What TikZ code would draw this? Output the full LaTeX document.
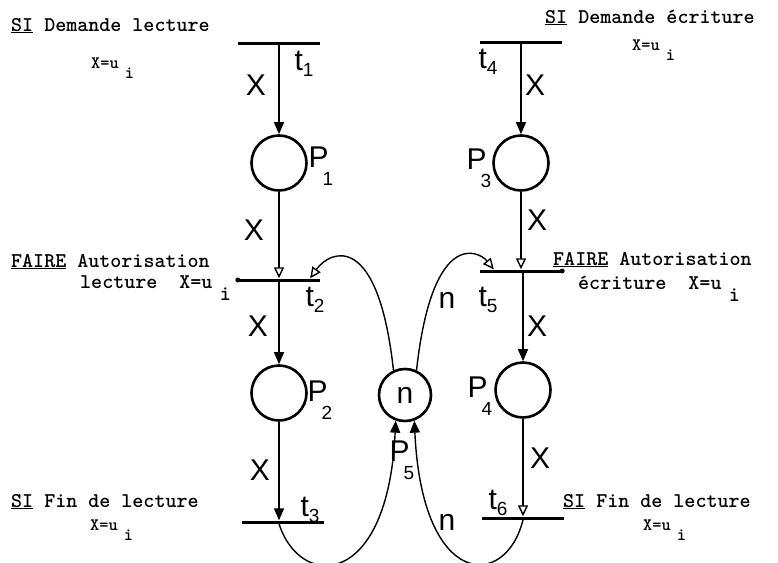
\documentclass[tikz,border=0pt]{standalone}
\usepackage{fontspec}
\newfontfamily\handfont{Liberation Sans}
\usetikzlibrary{arrows.meta}
\newcommand{\lowsub}[1]{\raisebox{-0.4ex}{\fontsize{19}{19}\selectfont #1}}
\newcommand{\undersub}[1]{\kern-0.2em\raisebox{-0.6em}{\fontsize{19}{19}\selectfont #1}}
\newcommand{\uidx}{u\hspace{0.35em}\raisebox{-0.6em}{i}}

\begin{document}
\begin{tikzpicture}[x=1pt,y=-1pt,
  place/.style={circle,draw,line width=2.6pt,minimum size=55pt,inner sep=0pt},
  bar/.style={rectangle,fill=black,minimum width=82pt,minimum height=3pt,inner sep=0pt},
  arc/.style={line width=1.4pt,-{Triangle[length=12pt,width=10pt]}},
  inarc/.style={line width=1.4pt,-{Triangle[open,length=11pt,width=10pt]}},
  lbl/.style={font=\handfont\fontsize{30}{30}\selectfont,inner sep=0pt},
  txt/.style={font=\ttfamily\bfseries\fontsize{21}{22}\selectfont,anchor=base west,inner sep=0pt},
  small/.style={font=\ttfamily\bfseries\fontsize{17.5}{18}\selectfont,anchor=base west,inner sep=0pt}
]
\useasboundingbox (0,0) rectangle (778,562);

% lecture
\node[bar] (t1) at (279,43) {};
\node[place] (p1) at (279,163) {};
\node[bar] (t2) at (279,280) {};
\node[place] (p2) at (279,393) {};
\node[bar] (t3) at (283,522) {};
% ecriture
\node[bar] (t4) at (521,42) {};
\node[place] (p3) at (521,163) {};
\node[bar] (t5) at (521,271) {};
\node[place] (p4) at (523,390) {};
\node[bar] (t6) at (523,518) {};
% ressource
\node[place,minimum size=52pt] (p5) at (405,395) {\handfont\fontsize{30}{30}\selectfont n};

\fill (t2.west) circle (2.5pt);
\fill (t5.east) circle (2.5pt);

\draw[arc] (t1) -- (p1);
\draw[inarc] (p1) -- (t2);
\draw[arc] (t2) -- (p2);
\draw[arc] (p2.south) -- (t3.north -| p2.south);
\draw[arc] (t4) -- (p3);
\draw[inarc] (p3) -- (t5);
\draw[arc] (t5.south -| p4.north) -- (p4);
\draw[inarc] (p4) -- (t6);

\draw[inarc] (p5.115) .. controls (378,230) and (330,250) .. ([xshift=-10pt]t2.north east);
\draw[inarc] (p5.65) .. controls (432,230) and (478,250) .. ([xshift=14pt]t5.north west);
\draw[arc] (t3.south -| p2.south) .. controls (300,590) and (388,590) .. (p5.250);
\draw[arc] (t6.south) .. controls (506,590) and (422,590) .. (p5.290);

% inscriptions
\node[lbl] (x1) at (256,85) {X};
\node[lbl] (x2) at (254,230) {X};
\node[lbl] (x3) at (258,326) {X};
\node[lbl] (x4) at (260,470) {X};
\node[lbl] (x5) at (535,85) {X};
\node[lbl] (x6) at (537,220) {X};
\node[lbl] (x7) at (537,326) {X};
\node[lbl] (x8) at (540,458) {X};
\node[lbl] (lt1) at (304,64) {t\lowsub{1}};
\node[lbl] (lt2) at (315,300) {t\lowsub{2}};
\node[lbl] (lt3) at (310,510) {t\lowsub{3}};
\node[lbl] (lt4) at (488,62) {t\lowsub{4}};
\node[lbl] (lt5) at (488,300) {t\lowsub{5}};
\node[lbl] (lt6) at (498,503) {t\lowsub{6}};
\node[lbl] (lp1) at (321,166) {P\undersub{1}};
\node[lbl] (lp2) at (320,400) {P\undersub{2}};
\node[lbl] (lp3) at (479,168) {P\undersub{3}};
\node[lbl] (lp4) at (480,396) {P\undersub{4}};
\node[lbl] (lp5) at (402,460) {P\undersub{5}};
\node[lbl] (n1) at (447,300) {n};
\node[lbl] (n2) at (447,522) {n};

% textes
\node[txt] (siA) at (11,31) {\underline{SI} Demande lecture};
\node[small] (xA) at (91,68) {X=\uidx};
\node[txt] (siB) at (545,23) {\underline{SI} Demande écriture};
\node[small] (xB) at (632,50) {X=\uidx};
\node[txt] (faA) at (11,267) {\underline{FAIRE} Autorisation};
\node[txt] (faA2) at (80,288) {lecture~ X=\uidx};
\node[txt] (faB) at (553,265) {\underline{FAIRE} Autorisation};
\node[txt] (faB2) at (578,289) {écriture~ X=\uidx};
\node[txt] (siC) at (11,507) {\underline{SI} Fin de lecture};
\node[small] (xC) at (90,530) {X=\uidx};
\node[txt] (siD) at (563,507) {\underline{SI} Fin de lecture};
\node[small] (xD) at (643,530) {X=\uidx};
\end{tikzpicture}
\end{document}
